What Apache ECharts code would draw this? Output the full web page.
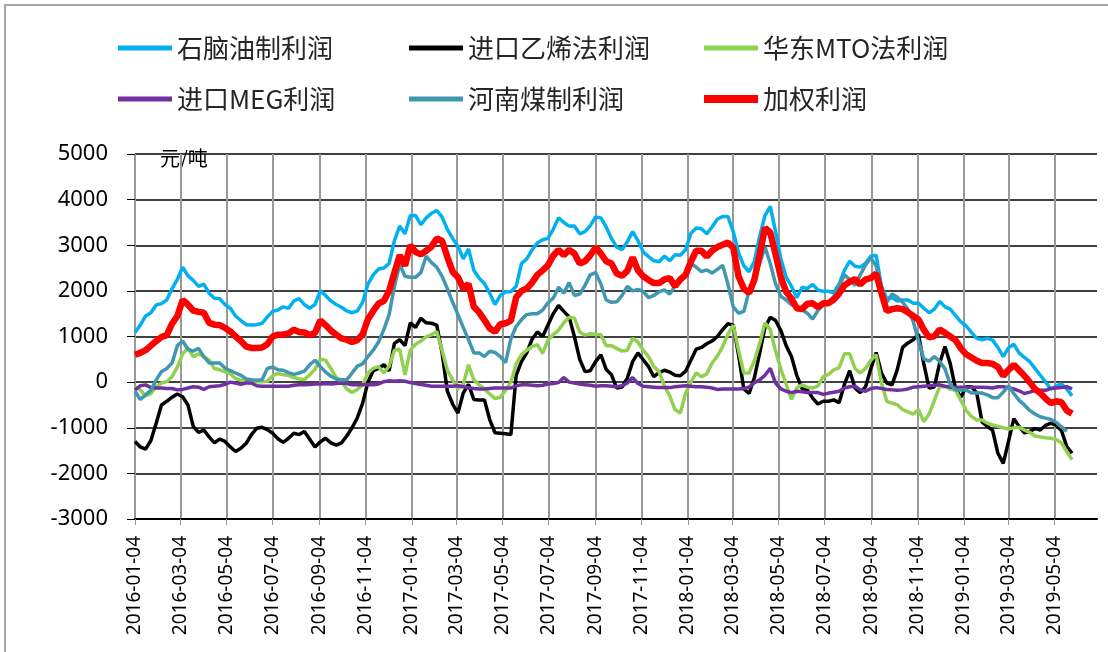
<!DOCTYPE html>
<html>
<head>
<meta charset="utf-8">
<script src="https://cdn.jsdelivr.net/npm/echarts@6/dist/echarts.min.js"></script>
<style>
html, body { margin: 0; padding: 0; background: #fff; }
#main { width: 1108px; height: 652px; }
</style>
</head>
<body>
<div id="main"></div>
<script>
// 周度数据，从 2016-01-04 起每 7 天一个点
var firstWeek = '2016-01-04';
var axisStart = '2016-01-04';
var axisEnd = '2019-06-29';

var seriesNames = ['石脑油制利润', '进口乙烯法利润', '华东MTO法利润', '进口MEG利润', '河南煤制利润', '加权利润'];

var naphtha = [
  1090, 1250, 1450, 1520, 1690, 1720, 1800, 2050, 2250, 2520, 2330, 2230, 2100, 2150, 1950, 1840, 1830, 1700, 1620, 1450,
  1350, 1260, 1250, 1260, 1290, 1430, 1550, 1580, 1650, 1620, 1780, 1830, 1700, 1620, 1700, 2000, 1900, 1780, 1700, 1640,
  1560, 1520, 1560, 1750, 2150,
  2350, 2480, 2500, 2600, 3100, 3420, 3250, 3650, 3650, 3450, 3600, 3700, 3760, 3620, 3350, 3150, 2980, 2700, 2920, 2450,
  2280, 2160, 1950, 1700, 1900, 1980, 1980, 2100, 2600, 2700, 2900, 3050, 3120, 3150, 3350, 3600, 3500, 3420, 3420, 3250,
  3300, 3430, 3620, 3600, 3400,
  3150, 2960, 2900, 3080, 3300, 3100, 2850, 2750, 2660, 2640, 2760, 2660, 2790, 2780, 2900, 3260, 3380, 3360, 3250, 3400,
  3570, 3630, 3630, 3300, 2840, 2550, 2420, 2650, 3200, 3650, 3850, 3300, 2700, 2300, 2100, 1850, 2080, 2050, 2140, 2020,
  1990, 1990, 1960, 2150, 2450,
  2650, 2540, 2520, 2610, 2760, 2780, 2100, 1830, 1850, 1780, 1800, 1800, 1730, 1730, 1620, 1520, 1600, 1770, 1650, 1600,
  1460, 1320, 1230, 1090, 960, 930, 960, 920, 760, 560, 750, 830, 640, 540, 450, 300, 150, 0, -150, -90,
  -40, -150, -300
];

var ethylene = [
  -1300, -1420, -1470, -1280, -900, -500, -420, -330, -260, -320, -500, -970, -1100, -1050, -1200, -1330, -1250, -1300, -1420, -1520,
  -1450, -1340, -1150, -1010, -990, -1040, -1120, -1240, -1320, -1230, -1120, -1150, -1080, -1250, -1420, -1310, -1230, -1330, -1380, -1330,
  -1180, -1000, -780, -460, 0,
  250, 300, 380, 250, 850, 930, 800, 1300, 1200, 1400, 1300, 1290, 1250, 650, -200, -480, -680, -240, -50, -380,
  -390, -390, -820, -1110, -1120, -1130, -1150, 150, 450, 640, 940, 1100, 1000, 1250, 1500, 1680, 1550, 1430, 1000, 500,
  230, 250, 450, 600, 280,
  160, -130, -110, 90, 450, 640, 490, 340, 120, 210, 260, 220, 150, 140, 240, 480, 720, 760, 840, 900,
  1000, 1150, 1280, 1250, 600, -150, -250, 100, 640, 1200, 1420, 1350, 1130, 800, 560, 150, -140, -170, -350, -480,
  -420, -420, -390, -450, -50,
  250, -130, -230, -100, 300, 650, 200, -20, -60, 280, 760, 860, 930, 1050, 400, -130, -100, 420, 780, 400,
  -150, -330, -100, -100, -240, -870, -970, -1060, -1560, -1780, -1300, -800, -970, -1110, -1080, -1020, -1050, -950, -900, -950,
  -1060, -1410, -1560
];

var mtoEast = [
  -100, -170, -300, -250, -100, -20, 10, 120, 330, 620, 740, 560, 620, 560, 480, 300, 270, 230, 180, 80,
  40, 40, 20, 10, 10, 20, 140, 190, 160, 150, 100, 70, 60, 160, 280, 500, 480, 300, 100, 0,
  -150, -230, -160, -60, 200,
  300, 340, 200, 350, 700, 720, 160, 700, 830, 900, 990, 1040, 1110, 700, 260, 50, -150, -50, 380, 50,
  -60, -150, -260, -360, -330, -180, 0, 400, 600, 700, 780, 820, 630, 920, 1040, 1140, 1300, 1420, 1400, 1100,
  1030, 1060, 1050, 1040, 800,
  800, 740, 680, 700, 960, 880, 700, 560, 340, 230, -80, -300, -600, -680, -250, 0, 200, 120, 180, 420,
  570, 780, 1050, 1250, 700, 200, 200, 470, 850, 1300, 1150, 680, 280, -50, -380, -130, -60, -110, -130, -80,
  120, 170, 270, 320, 620,
  620, 300, 200, 300, 480, 600, -20, -420, -460, -500, -600, -650, -700, -600, -870, -700, -400, -100, -100, -150,
  -180, -400, -620, -750, -830, -830, -900, -940, -970, -1000, -1030, -1000, -990, -1050, -1100, -1180, -1200, -1220, -1230, -1260,
  -1330, -1520, -1700
];

var megImport = [
  -170, -80, -60, -120, -130, -130, -140, -140, -170, -160, -130, -100, -110, -160, -100, -90, -80, -50, 0, -20,
  -50, -20, -20, -80, -90, -90, -90, -90, -90, -90, -70, -60, -60, -50, -40, -40, -30, -40, -30, -20,
  -30, -60, -60, -60, -50,
  -60, -40, 10, 30, 20, 30, 20, -10, -30, -50, -70, -90, -90, -90, -90, -90, -80, -100, -120, -140,
  -150, -150, -140, -130, -130, -130, -130, -80, -60, -60, -70, -80, -70, -40, -30, -10, 100, 0, -20, -40,
  -60, -70, -90, -80, -80,
  -90, -100, -80, -20, 100, -30, -90, -100, -110, -120, -120, -120, -100, -90, -80, -90, -100, -100, -110, -130,
  -160, -150, -150, -150, -150, -140, -110, -10, 50, 150, 300, -20, -150, -200, -230, -200, -210, -230, -230, -230,
  -270, -240, -220, -200, -130,
  -100, -90, -170, -200, -140, -120, -140, -160, -170, -180, -170, -150, -110, -100, -90, -80, -70, -60, -90, -110,
  -120, -110, -110, -110, -110, -110, -120, -130, -100, -100, -120, -150, -190, -250, -220, -180, -180, -180, -140, -130,
  -120, -100, -150
];

var henanCoal = [
  -200, -380, -280, -180, 50, 230, 300, 420, 800, 900, 720, 680, 740, 560, 420, 420, 420, 310, 250, 200,
  150, 70, 50, 40, 50, 300, 330, 270, 260, 210, 170, 200, 240, 380, 480, 340, 220, 130, 70, 50,
  50, 200, 350, 400, 560,
  700, 880, 1150, 1480, 2100, 2580, 2320, 2300, 2300, 2400, 2760, 2620, 2520, 2320, 2050, 1750, 1480, 1200, 930, 640,
  640, 560, 680, 650, 560, 430, 950, 1220, 1370, 1480, 1500, 1500, 1580, 1740, 1840, 2080, 1950, 2180, 1900, 1930,
  2120, 2350, 2400, 2150, 1800,
  1750, 1760, 1900, 2100, 2000, 2030, 1990, 1850, 1900, 1980, 2020, 1930, 2100, 2200, 2400, 2600, 2520, 2420, 2460, 2390,
  2470, 2560, 2150, 1650, 1510, 1550, 2000, 2250, 2600, 2960, 2600, 2150, 1880, 1800, 1700, 1650, 1580, 1510, 1380, 1570,
  1700, 1740, 1880, 2100, 2350,
  2250, 2120, 2350, 2570, 2720, 2550, 2000, 1750, 1930, 1860, 1750, 1600, 1330, 900, 510, 460, 560, 450, 290, -50,
  -170, -170, -170, -240, -240, -240, -280, -340, -340, -220, -80, -250, -400, -500, -620, -700, -760, -790, -820, -880,
  -980, -1080
];

var weighted = [
  600, 640, 700, 800, 900, 990, 1030, 1280, 1450, 1800, 1700, 1570, 1540, 1520, 1300, 1260, 1250, 1190, 1110, 1000,
  900, 780, 750, 750, 760, 830, 1000, 1040, 1040, 1070, 1150, 1100, 1090, 1030, 1080, 1350, 1250, 1130, 1040, 960,
  930, 880, 920, 1050, 1380,
  1560, 1720, 1780, 2000, 2400, 2780, 2550, 3000, 2850, 2800, 2880, 2970, 3150, 3100, 2740, 2420, 2300, 2050, 2150, 1650,
  1530, 1360, 1180, 1100, 1270, 1290, 1350, 1860, 2000, 2050, 2180, 2350, 2450, 2560, 2770, 2900, 2780, 2900, 2820, 2600,
  2650, 2780, 2950, 2820, 2650,
  2600, 2380, 2330, 2440, 2730, 2450, 2320, 2240, 2170, 2170, 2250, 2280, 2100, 2250, 2350, 2640, 2880, 2880, 2750, 2880,
  2960, 3010, 3060, 2950, 2320, 2050, 1950, 2250, 2800, 3380, 3280, 2800, 2300, 1980, 1830, 1620, 1600, 1720, 1730, 1640,
  1730, 1730, 1810, 1940, 2120,
  2200, 2260, 2140, 2250, 2280, 2380, 1950, 1560, 1600, 1620, 1600, 1530, 1450, 1370, 1150, 980, 1010, 1150, 1080, 1000,
  920, 740, 610, 540, 470, 420, 420, 400, 330, 140, 270, 380, 260, 140, 0, -150, -240, -360, -460, -420,
  -440, -620, -690
];

var lineColors = ['#00B0F0', '#000000', '#92D050', '#7030A0', '#3F97B0', '#FF0000'];
var lineWidths = [3.5, 3.5, 3.5, 3.5, 3.5, 6.5];
var legendLeft = [113, 404, 699];
var legendTop = [30, 81];

function fmt(d) {
  var m = d.getUTCMonth() + 1, day = d.getUTCDate();
  return d.getUTCFullYear() + '-' + (m < 10 ? '0' : '') + m + '-' + (day < 10 ? '0' : '') + day;
}
function utc(s) {
  var p = s.split('-');
  return Date.UTC(+p[0], +p[1] - 1, +p[2]);
}

// 日度类目轴，刻度只标奇数月的 4 号
var days = [];
for (var t = utc(axisStart); t <= utc(axisEnd); t += 86400000) days.push(fmt(new Date(t)));

var weeks = [];
for (var i = 0; i < naphtha.length; i++) weeks.push(fmt(new Date(utc(firstWeek) + i * 7 * 86400000)));

function pairs(vals) {
  return vals.map(function (v, i) { return [weeks[i], v]; });
}
function isMajor(idx, val) {
  return /-(01|03|05|07|09|11)-04$/.test(val);
}

var allData = [naphtha, ethylene, mtoEast, megImport, henanCoal, weighted];

var myChart = echarts.init(document.getElementById('main'));

var option = {
  animation: false,
  backgroundColor: '#fff',
  grid: { left: 135, right: 11, top: 154, bottom: 133 },
  legend: seriesNames.map(function (name, k) {
    return {
      left: legendLeft[k % 3],
      top: legendTop[Math.floor(k / 3)],
      icon: 'rect',
      itemWidth: 54,
      itemHeight: Math.round(lineWidths[k]) + 1,
      selectedMode: false,
      data: [name],
      textStyle: { fontFamily: 'Noto Sans CJK SC', fontSize: 26, color: '#262626' }
    };
  }),
  xAxis: {
    type: 'category',
    data: days,
    boundaryGap: false,
    axisLine: { onZero: false, lineStyle: { color: '#000', width: 2 } },
    axisTick: { interval: isMajor, length: 6, lineStyle: { color: '#999' } },
    axisLabel: {
      interval: isMajor, rotate: 90, margin: 17,
      fontFamily: 'Noto Sans', fontSize: 19, color: '#000'
    },
    splitLine: { show: true, interval: isMajor, lineStyle: { color: '#999', width: 2 } }
  },
  yAxis: {
    type: 'value',
    min: -3000,
    max: 5000,
    interval: 1000,
    axisLine: { show: false },
    axisTick: { show: true, length: 8, lineStyle: { color: '#000' } },
    axisLabel: {
      margin: 27, fontFamily: 'Noto Sans', fontSize: 22, color: '#000',
      formatter: function (v) { return String(v); }
    },
    splitLine: { lineStyle: { color: '#000', width: 1.5 } }
  },
  graphic: [
    {
      type: 'rect', silent: true,
      shape: { x: 5, y: 5, width: 1200, height: 700 },
      style: { fill: 'none', stroke: '#a6a6a6', lineWidth: 2 }
    },
    {
      type: 'text', left: 160, top: 148,
      style: { text: '元/吨', font: '20px "Noto Sans CJK SC"', fill: '#000' }
    }
  ],
  series: allData.map(function (vals, k) {
    return {
      name: seriesNames[k],
      type: 'line',
      symbol: 'none',
      data: pairs(vals),
      itemStyle: { color: lineColors[k] },
      lineStyle: { color: lineColors[k], width: lineWidths[k] }
    };
  })
};

myChart.setOption(option);
</script>
</body>
</html>
